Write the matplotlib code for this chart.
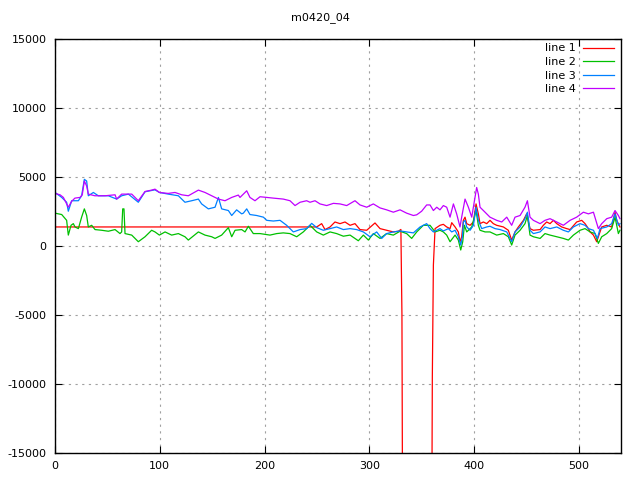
import matplotlib
matplotlib.use("Agg")
import matplotlib.pyplot as plt

# ---- data ----
x1 = [0, 249.7, 254.4, 257.6, 262.4, 267.1, 271.9, 276.7, 281.5, 286.2, 291, 297.4, 305.3, 310.1,
      316.4, 322.8, 327.6, 330, 331, 332, 359, 360, 361, 362.6, 367.3, 370.5, 373.7, 376.9, 378.5,
      381.7, 384.8, 386.4, 388, 389.6, 391.2, 392.8, 396, 399.2, 401.7, 403.9, 405.5, 408.7, 411.9,
      415, 418.2, 421.4, 427.8, 432.5, 435.7, 438.9, 442.1, 446.9, 450, 453.2, 456.4, 462.8, 465.9,
      469.1, 472.3, 475.5, 478.7, 483.4, 488.2, 491.4, 497.7, 502.5, 505.7, 508.9, 510.5, 513.7,
      516.8, 518.4, 521.6, 526.4, 531.1, 534.3, 535.9, 539]
y1 = [1380, 1380, 1620, 1190, 1380, 1740, 1620, 1740, 1500, 1620, 1190, 1140, 1670, 1260,
      1140, 1020, 1070, 1200, -4950, -30000, -30000, -9475, -1380, 1260, 1500, 1570, 1380, 1260, 1690,
      1380, 1020, 310, 670, 1860, 2090, 1620, 1500, 1740, 3050, 2330, 1620, 1740, 1620,
      1860, 1620, 1500, 1380, 1140, 430, 1020, 1380, 1860, 2330, 1260, 1140, 1190, 1500,
      1740, 1620, 1860, 1620, 1380, 1260, 1190, 1740, 1860, 1620, 1260, 1020, 790,
      310, 670, 1380, 1500, 1380, 2450, 1860, 1380]

x2 = [0, 6.4, 11.1, 12.7, 15.3, 17.5, 19.1, 22.3, 25.4, 28, 30.2, 31.8, 35, 38.2, 44.5, 50.9, 57.3,
      62, 63.6, 64.6, 65.8, 66.8, 73.2, 79.5, 85.9, 92.2, 95.4, 99.6, 105, 111.3, 117.7, 124, 127.2,
      136.8, 143.1, 149.5, 152.7, 159, 165.4, 168.6, 171.8, 178.1,
      181.3, 184.5, 189.2, 195.6, 205.1, 211.5, 217.8, 224.2, 230.6, 236.9, 243.3, 249.7, 256, 262.4,
      268.7, 275.1, 281.5, 289.4, 294.2, 299, 303.7, 310.1, 316.4, 322.8, 329.2, 335.5, 340.3, 345.1,
      351.4, 357.8,
      362.6, 367.3, 370.5, 373.7, 376.9, 381.7, 384.8, 387.1, 389, 390.6, 392.8, 397.6, 401.7, 403.9,
      405.5, 410.3, 415, 421.4, 427.8, 432.5, 435.7, 438.9, 443.7, 448.4, 450.7, 453.2, 456.4, 462.8,
      467.5, 472.3, 478.7, 485, 489.8, 494.6, 500.9, 505.7, 510.5, 515.2, 518.4, 521.6, 526.4, 531.1,
      534.3, 537.5, 539]
y2 = [2380, 2280, 1860, 790, 1500, 1620, 1380, 1260, 2090, 2690, 2210, 1380, 1500, 1190, 1140, 1070, 1190,
      900, 1020, 2690, 2690, 900, 790, 310, 670, 1140, 1020, 790, 1020, 790, 900, 670, 430,
      1020, 790, 670, 550, 790, 1330, 670, 1140, 1190,
      1020, 1430, 900, 900, 790, 900, 950, 900, 670, 1020, 1500, 1020, 790, 1020,
      900, 710, 790, 380, 790, 430, 900, 550, 900, 790, 1070, 900, 550, 1020,
      1500, 1500,
      1020, 1140, 1020, 790, 310, 790, 430, -290, 310, 1500, 1020, 1380, 2570, 1500,
      1140, 1020, 1020, 790, 900, 670, 70, 790, 1140, 1620, 2210, 790, 670, 550,
      900, 790, 670, 550, 430, 790, 1140, 1260, 1020, 900, 190, 670, 900, 1260,
      2090, 900, 1140]

x3 = [0, 6.4, 11.1, 12.7, 15.9, 22.3, 25.4, 28, 30.2, 31.8, 36.6, 41.3, 50.9, 58.8, 63.6, 70, 79.5,
      85.9, 95.4, 99.6, 108.1, 117.7, 124, 130.4, 136.8, 139.9, 146.3, 152.7, 155.9, 159, 165.4, 168.6,
      173.3, 178.1,
      179.7, 182.9, 186, 192.4, 198.8, 202, 208.3, 214.7, 221, 227.4, 233.8, 240.1, 244.9, 249.7, 256,
      262.4, 268.7, 275.1, 281.5, 287.8, 294.2, 300.5, 306.9, 311.7, 316.4, 322.8, 329.2, 335.5, 341.9,
      348.3, 354.6,
      357.8, 361, 364.2, 367.3, 370.5, 375.3, 378.5, 381.7, 384.8, 387.1, 388.7, 389.6, 391.2, 392.8,
      396, 399.2, 401.7, 403.9, 407.1, 411.9, 415, 419.8, 424.6, 431, 435.7, 438.9, 443.7, 448.4, 450.7,
      453.2, 456.4, 462.8, 467.5, 472.3, 478.7, 485, 489.8, 494.6, 500.9, 505.7, 508.9, 513.7, 517.5,
      520, 526.4, 531.1, 534.3, 537.5, 539]
y3 = [3880, 3520, 3170, 2520, 3280, 3280, 3640, 4830, 4710, 3640, 3880, 3640, 3640, 3400, 3640, 3760, 3170,
      3930, 4070, 3880, 3760, 3640, 3170, 3280, 3400, 3050, 2690, 2810, 3520, 2690, 2570, 2210,
      2620, 2330,
      2380, 2690, 2280, 2210, 2090, 1860, 1810, 1860, 1500, 1020, 1190, 1260, 1640, 1330, 1140,
      1260, 1380, 1190, 1260, 1190, 1020, 670, 1020, 550, 900, 1020, 1090, 1020, 950,
      1380, 1620,
      1260, 1020, 1140, 1260, 1090, 1260, 1020, 1140, 670, 70, 670, 1740, 1860, 1380,
      1140, 1500, 2810, 1860, 1260, 1380, 1430, 1260, 1190, 1020, 310, 1020, 1380, 1980, 2450,
      1140, 900, 1020, 1380, 1260, 1380, 1140, 1020, 1380, 1620, 1500, 1260, 1140, 550,
      1260, 1380, 1620, 2330, 1500, 1620]

x4 = [0, 4.8, 8, 12.7, 15.9, 19, 23.9, 26, 28, 30.2, 31.8, 38, 47.7, 57.3, 58.8, 63.6, 73.2, 79.5,
      85.9, 92.2, 95.4, 99.6, 108, 114.5, 120.9, 127.2, 136.8, 143.1, 149.5, 155.9, 162.2, 168.6,
      174.9, 176.5,
      179.7, 182.9, 186, 190.8, 195.6, 202, 208.3, 217.8, 224.2, 229, 233.8, 240.1, 243.3, 248.1, 252.8,
      259.2, 265.6, 271.9, 278.3, 284.6, 286.2, 291, 297.4, 303.7, 310.1, 316.4, 322.8, 329.2, 335.5,
      341.9, 345.1, 349.8, 354.6, 357.8,
      361, 364.2, 367.3, 370.5, 373.7, 376.9, 380.1, 383.2, 386.4, 388, 391.2, 394.4, 397.6, 400.7,
      402.3, 403.9, 405.5, 408.7, 415, 421.4, 426.2, 431, 435.7, 438.9, 443.7, 448.4, 450.7, 453.2,
      456.4, 462.8, 467.5, 472.3, 478.7, 485, 491.4, 497.7, 504.1, 508.9, 513.7, 518.4, 521.6, 526.4,
      531.1, 534.3, 537.5, 539]
y4 = [3810, 3710, 3520, 2810, 3240, 3470, 3520, 3710, 4710, 4350, 3760, 3640, 3640, 3710, 3400, 3760, 3760, 3280,
      3950, 4050, 4120, 3880, 3810, 3880, 3710, 3640, 4050, 3880, 3640, 3400, 3280, 3520,
      3690, 3520,
      3760, 4000, 3520, 3280, 3570, 3520, 3470, 3400, 3280, 2930, 3170, 3280, 3170, 3280, 3050,
      2930, 3090, 3050, 2930, 3210, 3280, 2975, 2810, 3050, 2760, 2620, 2450, 2620, 2380,
      2210, 2260, 2520, 2975, 2975,
      2570, 2810, 2620, 2930, 2810, 2090, 3050, 2330, 1380, 2090, 3400, 2810, 2090, 3520,
      4240, 3760, 2810, 2570, 2090, 1860, 1740, 2090, 1500, 2090, 2210, 2810, 3280, 2090,
      1860, 1620, 1860, 1980, 1740, 1500, 1860, 2090, 2450, 2330, 2450, 1260, 1620, 1980,
      2090, 2570, 2210, 1980]

labels = ["line 1", "line 2", "line 3", "line 4"]
colors = ["#ff0000", "#00c000", "#0080ff", "#c000ff"]
title = "m0420_04"
xticks = [0, 100, 200, 300, 400, 500]
yticks = [-15000, -10000, -5000, 0, 5000, 10000, 15000]

plt.rcParams["axes.unicode_minus"] = False
plt.rcParams["font.family"] = ["DejaVu Sans"]

fig = plt.figure(figsize=(6.4, 4.8), dpi=100)
ax = fig.add_axes([55 / 640, 1 - 453 / 480, (621 - 55) / 640, (453 - 39) / 480])

for xs, ys, lab, c in zip([x1, x2, x3, x4], [y1, y2, y3, y4], labels, colors):
    ax.plot(xs, ys, color=c, lw=0.9, label=lab)

ax.set_xlim(0, 540)
ax.set_ylim(-15000, 15000)
ax.set_xticks(xticks)
ax.set_yticks(yticks)
ax.tick_params(direction="in", length=5, width=0.8, labelsize=8, top=True, right=True,
               pad=6)
for s in ax.spines.values():
    s.set_linewidth(1.0)
ax.grid(True, color="#a0a0a0", linestyle=(0, (2, 4)), linewidth=0.8)

fig.text(0.5, 1 - 18 / 480, title, ha="center", va="center", fontsize=8)

leg = ax.legend(loc="upper right", frameon=False, markerfirst=False, fontsize=8,
                handlelength=2.8, handletextpad=0.6, labelspacing=0.32,
                borderaxespad=0.0, bbox_to_anchor=(0.995, 1.0))

fig.savefig("out.png", dpi=100)
